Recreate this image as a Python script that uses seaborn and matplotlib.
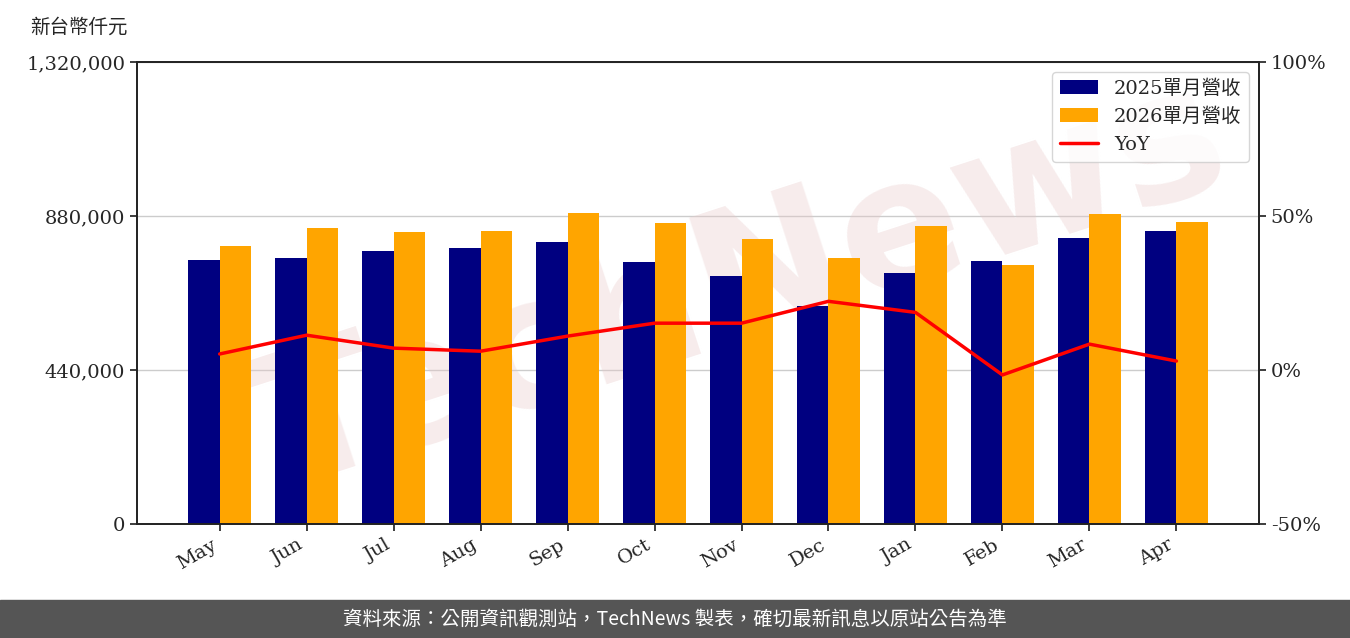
import matplotlib
matplotlib.use("Agg")
import matplotlib.pyplot as plt
import seaborn as sns
import pandas as pd
from matplotlib.ticker import FuncFormatter

months = ["May","Jun","Jul","Aug","Sep","Oct","Nov","Dec","Jan","Feb","Mar","Apr"]
rev2025 = [754000,760000,780000,789000,806000,749000,709000,623000,717000,751000,817000,837000]
rev2026 = [794000,846000,834000,837000,889000,860000,814000,760000,851000,740000,886000,863000]
yoy = [5.2,11.3,7.1,6.1,11.0,15.2,15.2,22.3,18.7,-1.6,8.4,2.9]

sns.set_theme(style="white")
plt.rcParams['font.family'] = ['DejaVu Serif', 'Noto Sans CJK TC']

df = pd.DataFrame({"month": months*2,
                   "rev": rev2025+rev2026,
                   "series": ["2025單月營收"]*12 + ["2026單月營收"]*12})

fig = plt.figure(figsize=(13.5, 6.38), dpi=100)
ax = fig.add_axes([0.1015, 0.1787, 0.8311, 0.7241])
sns.barplot(data=df, x="month", y="rev", hue="series", order=months,
            palette=["#000080", "#FFA500"], width=0.72, ax=ax, saturation=1,
            linewidth=0, edgecolor='none')
for p in ax.patches:
    p.set_zorder(2)
ax.set_ylim(0, 1320000)
ax.set_yticks([0, 440000, 880000, 1320000])
ax.yaxis.set_major_formatter(FuncFormatter(lambda v, p: f"{int(v):,}"))
ax.grid(axis='y', color='#cccccc', lw=1)
ax.set_axisbelow(True)
ax.set_xlabel(""); ax.set_ylabel("")
ax.set_xlim(-0.95, 11.95)
for s in ax.spines.values():
    s.set_color('black'); s.set_linewidth(1.2)
ax.tick_params(axis='both', labelsize=14, length=5, left=True, bottom=True, direction='out')
plt.setp(ax.get_xticklabels(), rotation=30, ha='right')

ax.text(0.55, 0.55, "TechNews", fontsize=130, rotation=18, color='#e8c8c8',
        alpha=0.35, ha='center', va='center', fontweight='bold',
        family='DejaVu Sans', zorder=1, transform=fig.transFigure)

ax2 = ax.twinx()
line, = ax2.plot(range(12), yoy, color='red', lw=2.5, label='YoY')
ax2.set_ylim(-50, 100)
ax2.set_yticks([-50, 0, 50, 100])
ax2.yaxis.set_major_formatter(FuncFormatter(lambda v, p: f"{int(v)}%"))
ax2.tick_params(axis='y', labelsize=14, length=5, right=True)
ax2.grid(False)

h, l = ax.get_legend_handles_labels()
ax.get_legend().remove()
ax2.legend(h + [line], l + ['YoY'], loc='upper right',
           prop={'family': ['DejaVu Serif', 'Noto Sans CJK TC'], 'size': 14})

fig.text(0.022, 0.958, "新台幣仟元", fontsize=14, family=['Noto Sans CJK TC'], va='center')
fig.patches.append(plt.Rectangle((0, 0), 1, 0.06, transform=fig.transFigure,
                                 color='#555555', zorder=-1))
fig.text(0.5, 0.03, "資料來源：公開資訊觀測站，TechNews 製表，確切最新訊息以原站公告為準",
         color='white', fontsize=14, ha='center', va='center',
         family=['Noto Sans CJK TC', 'DejaVu Sans'])
fig.savefig("out.png", dpi=100)
